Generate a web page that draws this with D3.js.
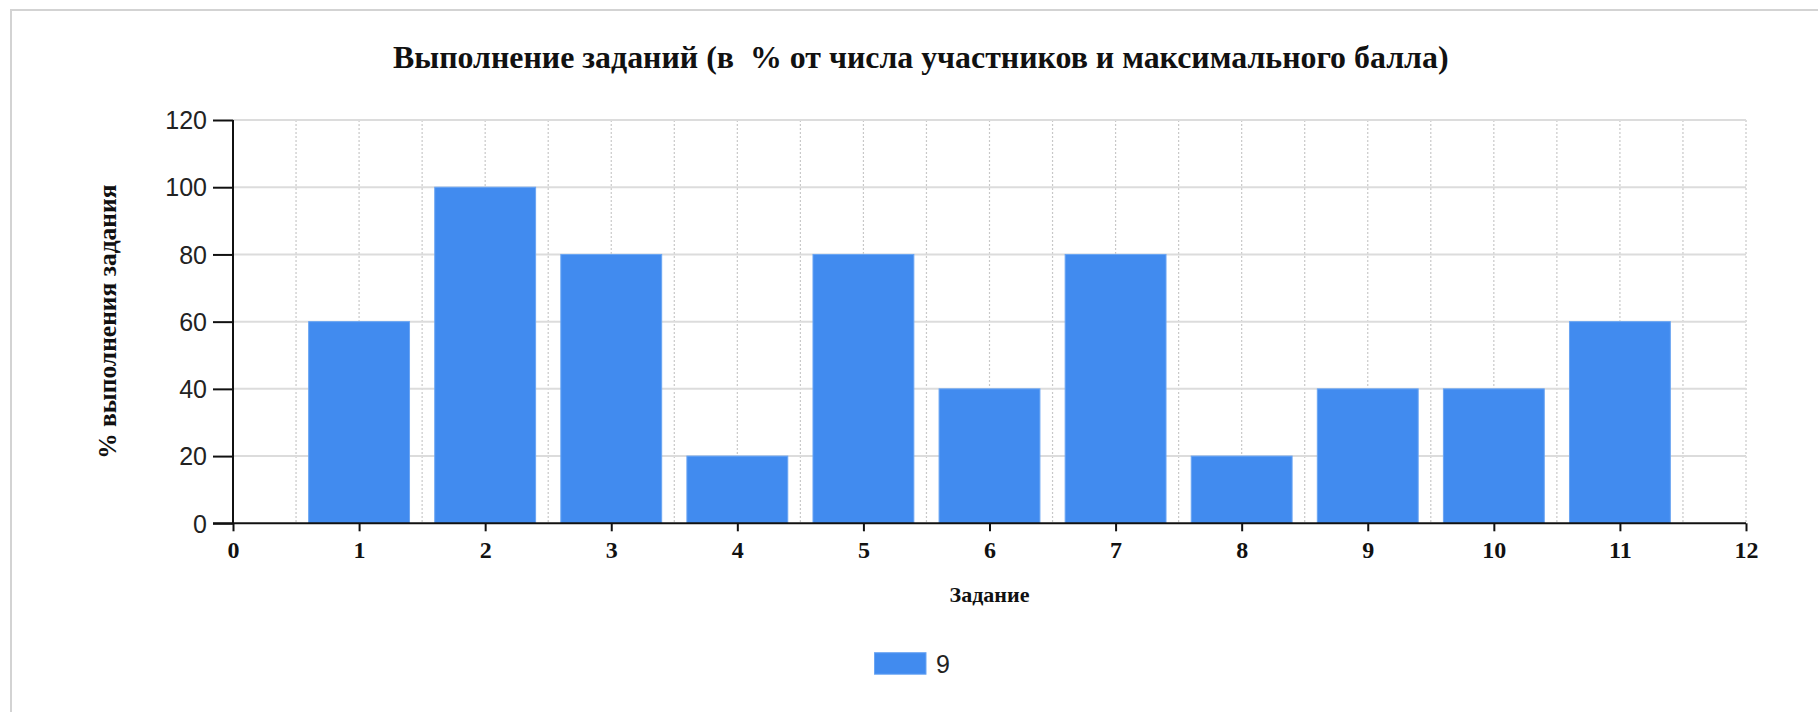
<!DOCTYPE html>
<html><head><meta charset="utf-8">
<script src="https://cdn.jsdelivr.net/npm/d3@7"></script>
<style>html,body{margin:0;padding:0;background:#fff;overflow:hidden}</style>
</head><body>
<svg id="c" width="1818" height="712"></svg>
<script>
const categories = [1,2,3,4,5,6,7,8,9,10,11];
const values = [60,100,80,20,80,40,80,20,40,40,60];
const xTicks = [0,1,2,3,4,5,6,7,8,9,10,11,12];
const yTicks = [0,20,40,60,80,100,120];
const seriesName = "9";
const title = "Выполнение заданий (в\u00a0 % от числа участников и максимального балла)";
const xLabel = "Задание";
const yLabel = "% выполнения задания";

const svg = d3.select("#c");
// container border
svg.append("rect").attr("x",11).attr("y",10).attr("width",1900).attr("height",800)
  .attr("fill","none").attr("stroke","#d3d3d3").attr("stroke-width",2);

const L=233, R=1746, T=120, B=523.3;
const x = d3.scaleLinear().domain([0,12]).range([L,R]);
const y = d3.scaleLinear().domain([0,120]).range([B,T]);
const serif = "'Liberation Serif','Times New Roman',serif";
const sans = "'Liberation Sans',Arial,sans-serif";

// vertical dotted grid
const vgrid = d3.range(1,25).map(d=>d/2);
svg.append("g").selectAll("line").data(vgrid).join("line")
  .attr("x1",d=>x(d)).attr("x2",d=>x(d)).attr("y1",T).attr("y2",B)
  .attr("stroke","#c8c8c8").attr("stroke-width",1.2).attr("stroke-dasharray","2,2");
// horizontal grid
svg.append("g").selectAll("line").data(yTicks.slice(1)).join("line")
  .attr("x1",L).attr("x2",R).attr("y1",d=>y(d)).attr("y2",d=>y(d))
  .attr("stroke","#dcdcdc").attr("stroke-width",2);

// bars
const bw = x(0.8)-x(0);
svg.append("g").selectAll("rect").data(values).join("rect")
  .attr("x",(d,i)=>x(categories[i])-bw/2).attr("width",bw)
  .attr("y",d=>y(d)).attr("height",d=>B-y(d))
  .attr("fill","#418bef").attr("stroke","#6aa5f3").attr("stroke-width",1);

// y axis
const ya = svg.append("g").attr("transform",`translate(${L},0)`)
  .call(d3.axisLeft(y).tickValues(yTicks).tickSize(20).tickPadding(6).tickFormat(d3.format("d")));
ya.select(".domain").attr("stroke","#111").attr("stroke-width",2).attr("d",`M0,${T}V${B}`);
ya.selectAll(".tick line").attr("stroke","#111").attr("stroke-width",2);
ya.selectAll(".tick text").attr("font-family",sans).attr("font-size",25).attr("fill","#222")
  .attr("dy","0.35em");

// x axis
const xa = svg.append("g").attr("transform",`translate(0,${B})`)
  .call(d3.axisBottom(x).tickValues(xTicks).tickSize(8).tickPadding(10).tickFormat(d3.format("d")));
xa.select(".domain").attr("stroke","#111").attr("stroke-width",2).attr("d",`M${L-20},0H${R}`);
xa.selectAll(".tick line").attr("stroke","#111").attr("stroke-width",2);
xa.selectAll(".tick text").attr("font-family",serif).attr("font-weight","bold")
  .attr("font-size",24).attr("fill","#111").attr("dy","0.71em");

// title
const t = svg.append("text").attr("x",393).attr("y",67.5).attr("font-family",serif)
  .attr("font-weight","bold").attr("font-size",30).attr("fill","#111").text(title);
const tl = t.node().getComputedTextLength();
t.attr("font-size", 30*1056/tl);

// axis labels
svg.append("text").attr("x",(L+R)/2).attr("y",601.5).attr("text-anchor","middle")
  .attr("font-family",serif).attr("font-weight","bold").attr("font-size",22).attr("fill","#111").text(xLabel);
svg.append("text").attr("transform",`translate(107.5,${(T+B)/2}) rotate(-90)`)
  .attr("text-anchor","middle").attr("dominant-baseline","central")
  .attr("font-family",serif).attr("font-weight","bold").attr("font-size",25.5).attr("fill","#111").text(yLabel);

// legend
svg.append("rect").attr("x",874.5).attr("y",652.7).attr("width",51.5).attr("height",21.5)
  .attr("fill","#418bef").attr("stroke","#6aa5f3").attr("stroke-width",1);
svg.append("text").attr("x",936).attr("y",663.5).attr("dominant-baseline","central")
  .attr("font-family",sans).attr("font-size",25).attr("fill","#222").text(seriesName);
</script>
</body></html>
